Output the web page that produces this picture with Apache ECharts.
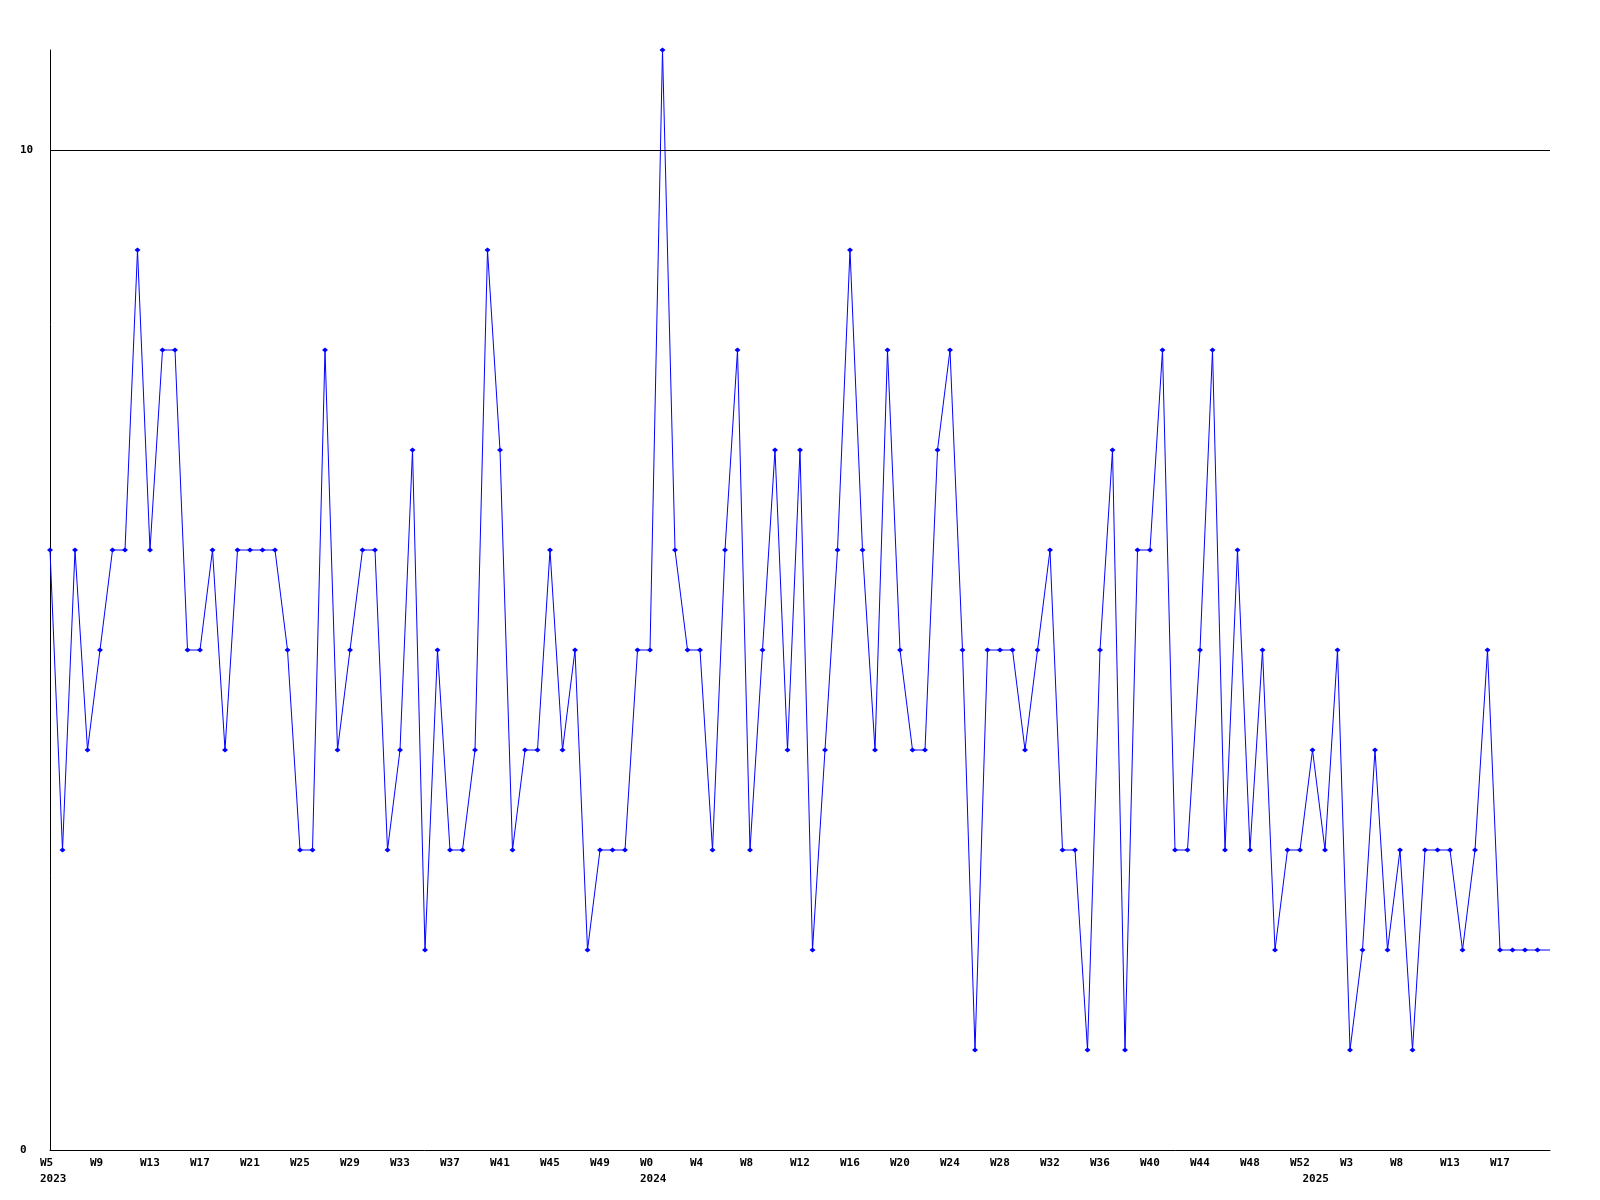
<!DOCTYPE html>
<html>
<head>
<meta charset="utf-8">
<script src="https://cdn.jsdelivr.net/npm/echarts@6/dist/echarts.min.js"></script>
<style>
html,body{margin:0;padding:0;background:#fff;}
#chart{width:1600px;height:1200px;}
</style>
</head>
<body>
<div id="chart"></div>
<script>
// Week categories (one per point)
const weeks2023 = ['W5','W6','W7','W8','W9','W10','W11','W12','W13','W14','W15','W16','W17','W18','W19','W20','W21','W22','W23','W24','W25','W26','W27','W28','W29','W30','W31','W32','W33','W34','W35','W36','W37','W38','W39','W40','W41','W42','W43','W44','W45','W46','W47','W48','W49','W50','W51','W52'];
const weeks2024 = ['W0','W1','W2','W3','W4','W5','W6','W7','W8','W9','W10','W11','W12','W13','W14','W15','W16','W17','W18','W19','W20','W21','W22','W23','W24','W25','W26','W27','W28','W29','W30','W31','W32','W33','W34','W35','W36','W37','W38','W39','W40','W41','W42','W43','W44','W45','W46','W47','W48','W49','W50','W51','W52'];
const weeks2025 = ['W0','W1','W2','W3','W4','W5','W7','W8','W9','W10','W12','W13','W14','W15','W16','W17','W18','W19','W20','W21'];
const categories = weeks2023.concat(weeks2024, weeks2025);

// Year captions shown under the first week of each year
const yearIndex = [0, 48, 101];
const yearText = ['2023', '2024', '2025'];

// Series values
const values = [
  6,3,6,4,5,6,6,9,6,8, 8,5,5,6,4,6,6,6,6,5,
  3,3,8,4,5,6,6,3,4,7, 2,5,3,3,4,9,7,3,4,4,
  6,4,5,2,3,3,3,5,5,11, 6,5,5,3,6,8,3,5,7,4,
  7,2,4,6,9,6,4,8,5,4, 4,7,8,5,1,5,5,5,4,5,
  6,3,3,1,5,7,1,6,6,8, 3,3,5,8,3,6,3,5,2,3,
  3,4,3,5,1,2,4,2,3,1, 3,3,3,2,3,5,2,2,2,2,
  2
];

const yTicks = [0, 10];
const refLine = 10;

const lastIdx = values.length - 1;
const seriesData = values.map((v, i) => i === lastIdx ? {value: v, symbol: 'none'} : v);

const chart = echarts.init(document.getElementById('chart'), null, {renderer: 'canvas'});
const font = 'DejaVu Sans Mono';
chart.setOption({
  animation: false,
  backgroundColor: '#ffffff',
  grid: {left: 50, right: 50, top: 50, bottom: 50, containLabel: false},
  xAxis: {
    type: 'category',
    data: categories,
    boundaryGap: false,
    axisLine: {show: true, lineStyle: {color: '#000', width: 1}},
    axisTick: {show: false},
    splitLine: {show: false},
    axisLabel: {
      interval: function (idx) { return (idx % 4 === 0 && idx !== lastIdx) || yearIndex.indexOf(idx) >= 0; },
      formatter: function (val, idx) {
        const y = yearIndex.indexOf(idx);
        const wk = (idx % 4 === 0) ? val : '';
        return y >= 0 ? wk + '\n' + yearText[y] : wk;
      },
      align: 'left',
      padding: [0, 0, 0, -10],
      margin: 5,
      lineHeight: 16,
      color: '#000',
      fontFamily: font,
      fontWeight: 'bold',
      fontSize: 11,
      hideOverlap: false
    }
  },
  yAxis: {
    type: 'value',
    min: 0,
    max: 11,
    interval: 10,
    axisLine: {show: true, lineStyle: {color: '#000', width: 1}},
    axisTick: {show: false},
    splitLine: {show: false},
    axisLabel: {
      showMaxLabel: false,
      align: 'left',
      margin: 30,
      color: '#000',
      fontFamily: font,
      fontWeight: 'bold',
      fontSize: 11,
      formatter: function (v) { return yTicks.indexOf(v) >= 0 ? String(v) : ''; }
    }
  },
  series: [{
    type: 'line',
    data: seriesData,
    symbol: 'diamond',
    symbolSize: [6, 5],
    showAllSymbol: true,
    lineStyle: {color: '#0000ff', width: 1},
    itemStyle: {color: '#0000ff'},
    markLine: {
      silent: true,
      symbol: 'none',
      label: {show: false},
      lineStyle: {color: '#000', width: 1, type: 'solid'},
      data: [{yAxis: refLine}]
    }
  }]
});
</script>
</body>
</html>
